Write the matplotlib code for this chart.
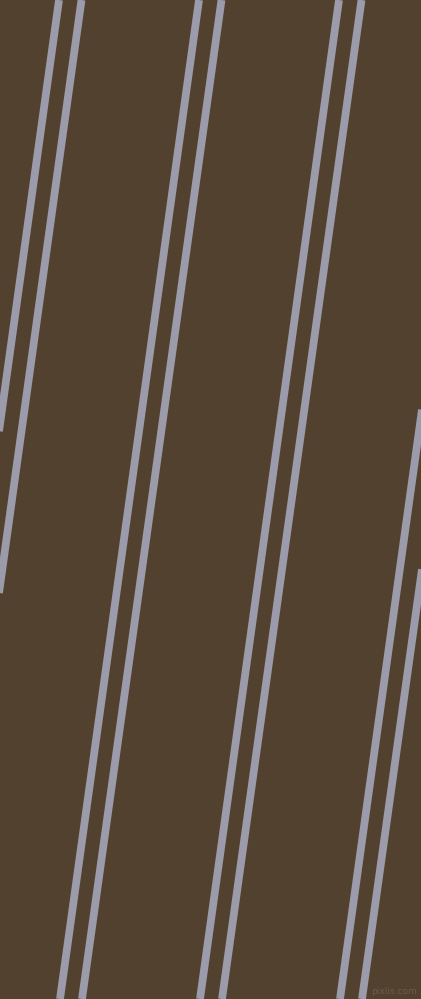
import matplotlib

matplotlib.use("Agg")
import matplotlib.pyplot as plt

# Stripe centre x positions (pixels) at the top edge (y=0) and bottom edge (y=999)
stripe_top_x = [59, 81.5, 199, 221.5, 339, 361.5, 479, 501.5]
stripe_bottom_x = [-80, -57.5, 60, 82, 200, 222, 340, 362]

WIDTH, HEIGHT = 421, 999
BG_COLOR = "#52412e"
STRIPE_COLOR = "#9c9bab"

fig = plt.figure(figsize=(WIDTH / 100, HEIGHT / 100), dpi=100)
ax = fig.add_axes([0, 0, 1, 1])
ax.set_facecolor(BG_COLOR)
fig.patch.set_facecolor(BG_COLOR)

for x_top, x_bot in zip(stripe_top_x, stripe_bottom_x):
    ax.plot([x_top, x_bot], [0, HEIGHT], color=STRIPE_COLOR, linewidth=5.6,
            solid_capstyle="butt")

ax.set_xlim(0, WIDTH)
ax.set_ylim(HEIGHT, 0)
ax.axis("off")

# watermark
ax.text(WIDTH - 4, HEIGHT - 8, "pixlis.com", color="#6b5d4b", fontsize=6.5,
        ha="right", va="center")

fig.savefig("out.png", dpi=100, facecolor=BG_COLOR)
plt.close(fig)
